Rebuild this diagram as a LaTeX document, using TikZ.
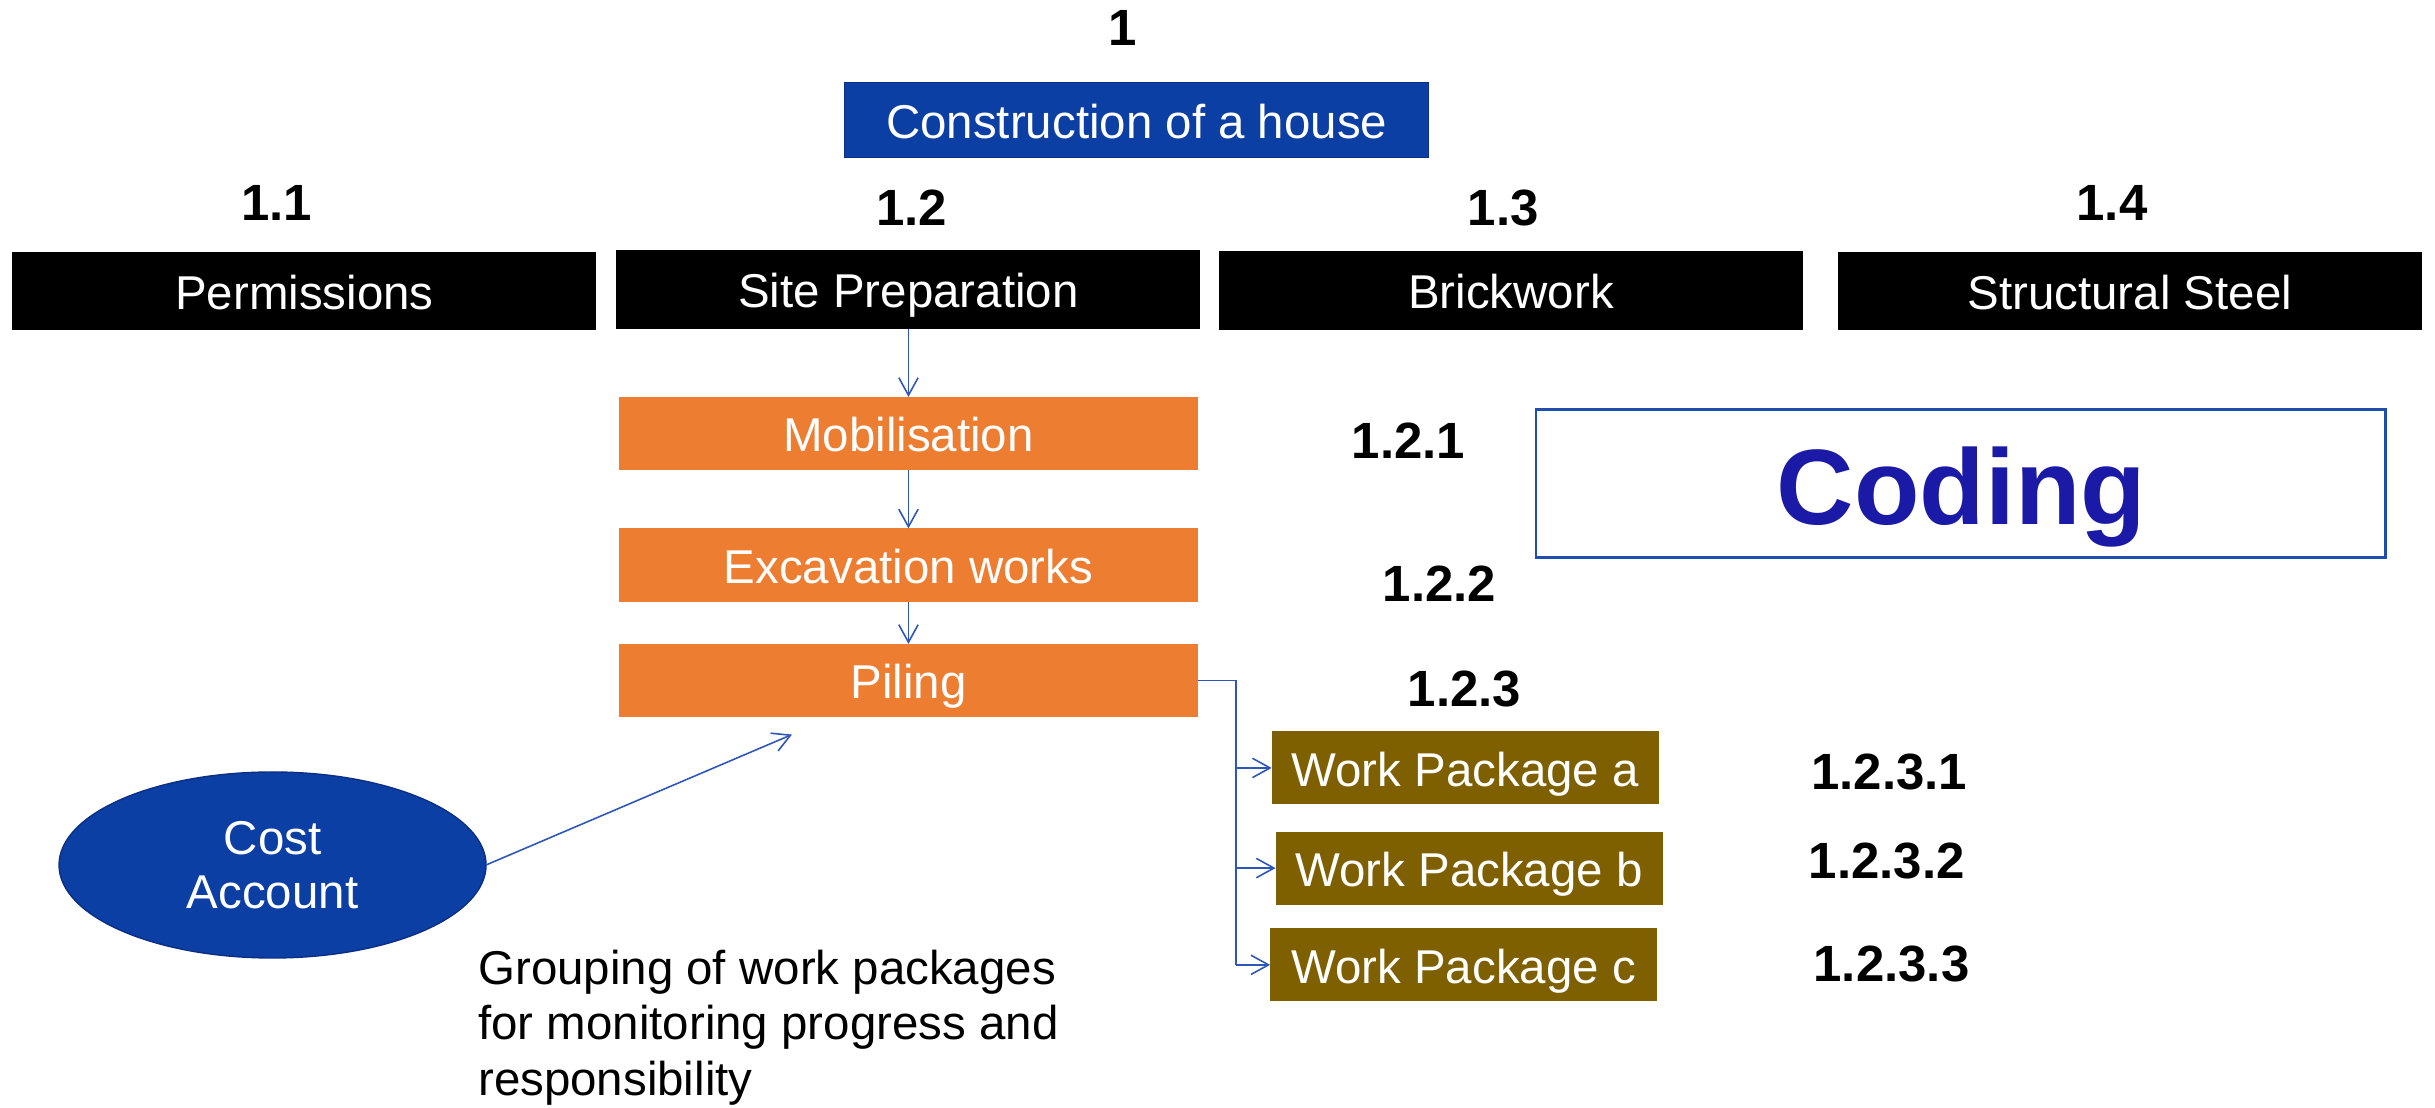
\documentclass[tikz,border=0pt]{standalone}
\usepackage{fontspec}
\setmainfont{Liberation Sans}
\usetikzlibrary{arrows.meta,positioning,shapes.geometric}
\definecolor{wbsBlue}{HTML}{0B3FA3}
\definecolor{wbsBlueEdge}{HTML}{0A2F85}
\definecolor{wbsOrange}{HTML}{ED7D31}
\definecolor{wbsOlive}{HTML}{7F6000}
\definecolor{wbsLine}{HTML}{2D56B8}
\definecolor{wbsCode}{HTML}{1A1AA6}
\definecolor{wbsFrame}{HTML}{1F4FAE}

\begin{document}
\begin{tikzpicture}[
x=0.15529mm, y=0.15529mm,
node distance=6.8mm and 10mm,
every node/.style={font=\fontsize{13.5}{15.4}\selectfont, inner sep=0pt, outer sep=0pt},
num/.style={anchor=base, font=\fontsize{14.5}{17}\selectfont\bfseries},
box/.style={text=white, align=center, text height=13pt, text depth=2.6pt},
rootbox/.style={box, draw=wbsBlueEdge, fill=wbsBlue, minimum width=58.4mm, minimum height=7.45mm},
lvlbox/.style={box, fill=black, minimum width=58.4mm, minimum height=7.85mm},
taskbox/.style={box, fill=wbsOrange, minimum width=57.85mm, minimum height=7.35mm},
wpbox/.style={box, fill=wbsOlive, minimum width=38.7mm, minimum height=7.3mm},
arr/.style={-{Straight Barb[length=5pt,width=5.5pt]}, draw=wbsLine, line width=0.45pt}
]
\useasboundingbox (0,0) rectangle (1568,-713);

% Root of the breakdown
\node[num] (n1) at (723,-29) {1};
\node[rootbox] (R0) at (732,-77.25) {Construction of a house};

% Level 1 elements
\node[num] (n11) at (178,-142) {1.1};
\node[num] (n12) at (587,-145) {1.2};
\node[num] (n13) at (968,-145) {1.3};
\node[num] (n14) at (1360,-142) {1.4};
\node[lvlbox] (L1) at (196,-187.5) {Permissions};
\node[lvlbox] (L2) at (585,-186.5) {Site Preparation};
\node[lvlbox] (L3) at (973,-187) {Brickwork};
\node[lvlbox] (L4) at (1371.5,-187.5) {Structural Steel};

% Site preparation tasks
\node[taskbox, below=6.8mm of L2] (M1) {Mobilisation};
\node[taskbox, below=5.8mm of M1] (M2) {Excavation works};
\node[taskbox, below=4.2mm of M2] (M3) {Piling};
\draw[arr] (L2) -- (M1); \draw[arr] (M1) -- (M2); \draw[arr] (M2) -- (M3);

\node[num] (n121) at (907,-295) {1.2.1};
\node[num] (n122) at (927,-387.6) {1.2.2};
\node[num] (n123) at (943,-455) {1.2.3};

% Work packages under piling
\node[wpbox] (W1) at (943.5,-494.5) {Work Package a};
\node[wpbox] (W2) at (946,-559) {Work Package b};
\node[wpbox] (W3) at (942.5,-621.3) {Work Package c};
\draw[draw=wbsLine, line width=0.45pt] (M3.east) -- ++(24.75,0) coordinate (bus) -- (bus |- W3.west);
\foreach \w in {W1,W2,W3} \draw[arr] (bus |- \w.west) -- (\w.west);

\node[num] (n1231) at (1216.5,-508.7) {1.2.3.1};
\node[num] (n1232) at (1215,-565.5) {1.2.3.2};
\node[num] (n1233) at (1218,-632) {1.2.3.3};

% Coding panel
\node[draw=wbsFrame, line width=0.8pt, minimum width=84.9mm, minimum height=14.8mm] (CF) at (1262.5,-311.25) {};
\node[anchor=base, font=\fontsize{30.5}{36}\selectfont\bfseries, text=wbsCode] (CT) at (1263,-338) {Coding};

% Cost account
\node[ellipse, draw=wbsBlueEdge, fill=wbsBlue, text=white, align=center, minimum width=42.7mm, minimum height=18.6mm] (CA) at (175.5,-557) {Cost\\Account};
\coordinate (caTip) at (510,-473);
\draw[arr] (CA.east) -- (caTip);

\node[anchor=north west, align=left, font=\fontsize{13.5}{15.8}\selectfont] (note) at (308,-611.5) {Grouping of work packages\\for monitoring progress and\\responsibility};
\end{tikzpicture}
\end{document}
